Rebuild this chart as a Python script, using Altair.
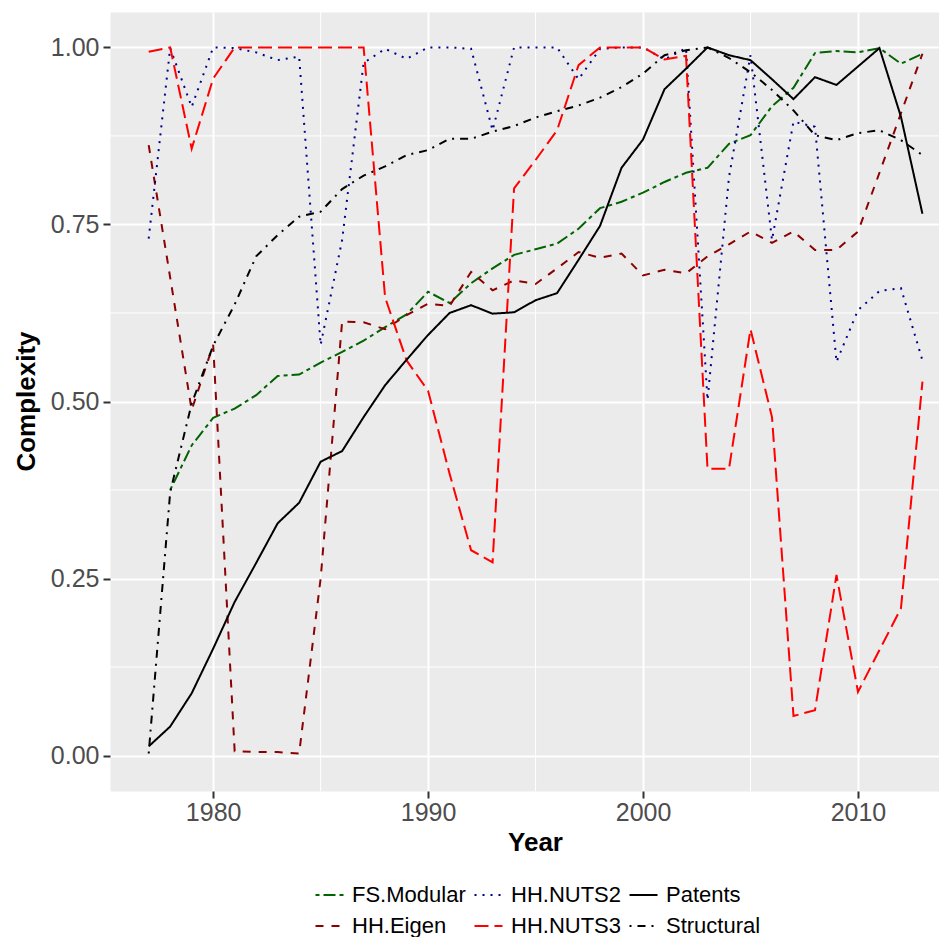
import altair as alt
import pandas as pd

years = list(range(1977, 2014))

fs_modular = [None, 0.375, 0.438, 0.477, 0.490, 0.509, 0.536, 0.538, 0.555, 0.570,
              0.586, 0.605, 0.623, 0.655, 0.639, 0.667, 0.688, 0.707, 0.715, 0.723,
              0.744, 0.773, 0.782, 0.795, 0.810, 0.823, 0.830, 0.864, 0.876, 0.917,
              0.943, 0.992, 0.995, 0.993, 0.999, 0.977, 0.991]
hh_eigen = [0.862, 0.675, 0.488, 0.580, 0.006, 0.005, 0.005, 0.003, 0.250, 0.613,
            0.612, 0.602, 0.622, 0.638, 0.635, 0.683, 0.657, 0.671, 0.666, 0.688,
            0.711, 0.703, 0.709, 0.678, 0.686, 0.681, 0.705, 0.722, 0.740, 0.724,
            0.740, 0.714, 0.714, 0.740, 0.823, 0.907, 0.991]
hh_nuts2 = [0.730, 0.999, 0.916, 1.000, 0.999, 0.993, 0.982, 0.987, 0.580, 0.728,
            0.978, 0.998, 0.984, 1.000, 1.000, 0.998, 0.883, 1.000, 1.000, 1.000,
            0.955, 0.998, 1.000, 1.000, 0.983, 0.999, 0.502, 0.817, 0.989, 0.728,
            0.895, 0.888, 0.556, 0.629, 0.656, 0.660, 0.558]
hh_nuts3 = [0.994, 1.000, 0.857, 0.956, 1.000, 1.000, 1.000, 1.000, 1.000, 1.000,
            1.000, 0.647, 0.558, 0.515, 0.398, 0.290, 0.273, 0.801, 0.841, 0.883,
            0.975, 1.000, 1.000, 1.000, 0.983, 0.988, 0.405, 0.405, 0.602, 0.478,
            0.056, 0.064, 0.255, 0.090, 0.149, 0.208, 0.528]
patents = [0.013, 0.041, 0.088, 0.151, 0.217, 0.272, 0.328, 0.357, 0.415, 0.430,
           0.478, 0.523, 0.559, 0.594, 0.625, 0.636, 0.624, 0.626, 0.643, 0.653,
           0.700, 0.748, 0.830, 0.870, 0.941, 0.970, 1.000, 0.989, 0.982, 0.955,
           0.927, 0.958, 0.947, 0.973, 0.999, 0.902, 0.765]
structural = [0.003, 0.372, 0.497, 0.579, 0.637, 0.705, 0.735, 0.761, 0.768, 0.800,
              0.819, 0.832, 0.848, 0.855, 0.871, 0.871, 0.881, 0.889, 0.901, 0.910,
              0.918, 0.929, 0.944, 0.963, 0.989, 0.996, 1.000, 0.985, 0.965, 0.940,
              0.911, 0.876, 0.869, 0.879, 0.883, 0.869, 0.848]

series = {
    "FS.Modular": fs_modular,
    "HH.Eigen": hh_eigen,
    "HH.NUTS2": hh_nuts2,
    "HH.NUTS3": hh_nuts3,
    "Patents": patents,
    "Structural": structural,
}

legend_order = ["FS.Modular", "HH.Eigen", "HH.NUTS2", "HH.NUTS3", "Patents", "Structural"]
colors = {"FS.Modular": "#006400", "HH.Eigen": "#8B0000", "HH.NUTS2": "#00008B",
          "HH.NUTS3": "#FF0000", "Patents": "#000000", "Structural": "#000000"}
dashes = {"FS.Modular": [4, 4, 12, 4], "HH.Eigen": [8, 8], "HH.NUTS2": [2, 6],
          "HH.NUTS3": [14, 6], "Patents": [1, 0], "Structural": [2, 6, 8, 6]}

x_major = [1980, 1990, 2000, 2010]
x_minor = [1985, 1995, 2005]
y_major = [0.0, 0.25, 0.5, 0.75, 1.0]
y_minor = [0.125, 0.375, 0.625, 0.875]

rows = []
for name, vals in series.items():
    for yr, v in zip(years, vals):
        if v is not None:
            rows.append({"Year": yr, "Complexity": v, "Series": name})
df = pd.DataFrame(rows)

FONT = "Liberation Sans"
xscale = alt.Scale(domain=[1975.2, 2013.77], nice=False, zero=False)
yscale = alt.Scale(domain=[-0.05, 1.05], nice=False, zero=False)

xaxis = alt.Axis(values=x_major, format="d", title="Year", grid=True, gridColor="white",
                 gridWidth=2, domain=False, tickSize=7, tickWidth=2, tickColor="#333333",
                 labelFontSize=25, labelColor="#4D4D4D", labelFont=FONT, labelPadding=2,
                 titleFontSize=26, titleFont=FONT, titleFontWeight="bold", titleColor="black",
                 titleX=425, titleY=59, titleBaseline="alphabetic", titleAlign="center")
yaxis = alt.Axis(values=y_major, format=".2f", title="Complexity", grid=True, gridColor="white",
                 gridWidth=2, domain=False, tickSize=7, tickWidth=2, tickColor="#333333",
                 labelFontSize=25, labelColor="#4D4D4D", labelFont=FONT, labelPadding=4,
                 titleFontSize=26, titleFont=FONT, titleFontWeight="bold", titleColor="black",
                 titleAngle=270, titleX=-76, titleY=389, titleBaseline="alphabetic",
                 titleAlign="center")

minor_x = alt.Chart(pd.DataFrame({"Year": x_minor})).mark_rule(
    color="white", strokeWidth=1).encode(x=alt.X("Year:Q", scale=xscale, axis=xaxis))
minor_y = alt.Chart(pd.DataFrame({"Complexity": y_minor})).mark_rule(
    color="white", strokeWidth=1).encode(y=alt.Y("Complexity:Q", scale=yscale, axis=yaxis))

lines = alt.Chart(df).mark_line(strokeWidth=2).encode(
    x=alt.X("Year:Q", scale=xscale, axis=xaxis),
    y=alt.Y("Complexity:Q", scale=yscale, axis=yaxis),
    color=alt.Color("Series:N",
                    scale=alt.Scale(domain=legend_order, range=[colors[s] for s in legend_order]),
                    legend=alt.Legend(title=None)),
    strokeDash=alt.StrokeDash("Series:N",
                              scale=alt.Scale(domain=legend_order, range=[dashes[s] for s in legend_order]),
                              legend=alt.Legend(title=None)),
    detail="Series:N",
)

chart = alt.layer(minor_x, minor_y, lines).properties(
    width=829, height=779,
    autosize=alt.AutoSizeParams(type="none"),
    padding={"left": 102, "top": 4, "right": 0, "bottom": 146},
).configure_view(
    fill="#EBEBEB", stroke="transparent"
).configure_legend(
    orient="none", legendX=204.5, legendY=868, columns=3, symbolType="stroke",
    symbolSize=784, symbolStrokeWidth=2, labelFontSize=22, labelFont=FONT,
    labelColor="black", labelOffset=7.5, columnPadding=4, rowPadding=5, padding=0,
)

chart.save("out.html", embed_options={"renderer": "svg", "actions": False})
